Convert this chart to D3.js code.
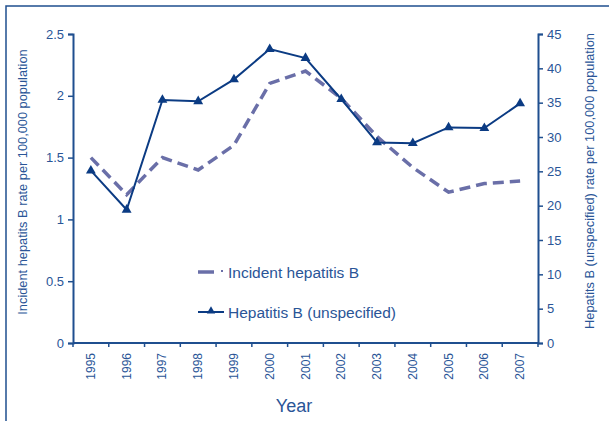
<!DOCTYPE html>
<html>
<head>
<meta charset="utf-8">
<script src="https://cdn.jsdelivr.net/npm/d3@7"></script>
<style>
  html, body { margin: 0; padding: 0; background: #fff; }
  svg { display: block; font-family: "Liberation Sans", Arial, sans-serif; }
</style>
</head>
<body>
<svg id="chart" width="609" height="421"></svg>
<script>
// Years on the x axis
const years = ["1995","1996","1997","1998","1999","2000","2001","2002","2003","2004","2005","2006","2007"];
// Incident hepatitis B rate per 100,000 (left axis)
const incidentRates = [1.5, 1.2, 1.5, 1.4, 1.6, 2.1, 2.2, 1.98, 1.67, 1.42, 1.22, 1.29, 1.31];
// Hepatitis B (unspecified) rate per 100,000 (right axis)
const unspecifiedRates = [25.1, 19.4, 35.4, 35.2, 38.4, 42.8, 41.5, 35.5, 29.2, 29.1, 31.4, 31.3, 34.9];
// Axis tick values
const leftTicks = [0, 0.5, 1, 1.5, 2, 2.5];
const rightTicks = [0, 5, 10, 15, 20, 25, 30, 35, 40, 45];

const axisColor = "#1f4f8f";
const textColor = "#2a5597";
const solidColor = "#0b3b83";
const dashColor = "#6a6fa8";

const svg = d3.select("#chart");

// Outer frame
svg.append("rect")
  .attr("x", 6).attr("y", 6).attr("width", 640).attr("height", 440)
  .attr("fill", "none").attr("stroke", axisColor).attr("stroke-width", 1.5);

const plotLeft = 73, plotRight = 538, plotTop = 34, plotBottom = 343;

const x = d3.scaleBand().domain(years).range([plotLeft, plotRight]).padding(0);
const yL = d3.scaleLinear().domain([0, 2.5]).range([plotBottom, plotTop]);
const yR = d3.scaleLinear().domain([0, 45]).range([plotBottom, plotTop]);

function styleAxis(g) {
  g.selectAll("path").attr("stroke", axisColor).attr("stroke-width", 2);
  g.selectAll("line").attr("stroke", axisColor).attr("stroke-width", 1.5);
  g.selectAll("text").attr("fill", textColor).style("font-size", "13px")
    .style("font-family", "'Liberation Sans', Arial, sans-serif");
}

// Left axis
svg.append("g").attr("transform", `translate(${plotLeft},0)`)
  .call(d3.axisLeft(yL).tickValues(leftTicks).tickFormat(d => String(d)).tickSize(5).tickSizeOuter(5).tickPadding(4))
  .call(styleAxis);

// Right axis
svg.append("g").attr("transform", `translate(${plotRight},0)`)
  .call(d3.axisRight(yR).tickValues(rightTicks).tickSize(5).tickSizeOuter(5).tickPadding(4))
  .call(styleAxis);

// Bottom axis: ticks at category boundaries, labels rotated
const xg = svg.append("g").attr("transform", `translate(0,${plotBottom})`);
xg.append("line").attr("x1", plotLeft).attr("x2", plotRight).attr("y1", 0).attr("y2", 0)
  .attr("stroke", axisColor).attr("stroke-width", 2);
const boundaries = years.map(d => x(d)).concat([x(years[years.length - 1]) + x.bandwidth()]);
xg.selectAll("line.tk").data(boundaries).join("line").attr("class", "tk")
  .attr("x1", d => d).attr("x2", d => d).attr("y1", 0).attr("y2", 4)
  .attr("stroke", axisColor).attr("stroke-width", 1.5);
xg.selectAll("text.yr").data(years).join("text").attr("class", "yr")
  .attr("transform", d => `translate(${x(d) + x.bandwidth() / 2 + 4},10) rotate(-90)`)
  .attr("text-anchor", "end")
  .attr("fill", textColor).style("font-size", "12px")
  .text(d => d);

// Axis titles
svg.append("text").attr("x", 294).attr("y", 412).attr("text-anchor", "middle")
  .attr("fill", textColor).style("font-size", "18px").text("Year");
svg.append("text").attr("transform", "translate(27,182) rotate(-90)").attr("text-anchor", "middle")
  .attr("fill", textColor).style("font-size", "12.8px")
  .text("Incident hepatits B rate per 100,000 population");
svg.append("text").attr("transform", "translate(594,181) rotate(-90)").attr("text-anchor", "middle")
  .attr("fill", textColor).style("font-size", "12.8px")
  .text("Hepatits B (unspecified) rate per 100,000 population");

const cx = d => x(d) + x.bandwidth() / 2;

// Incident hepatitis B: dashed line
svg.append("path")
  .datum(incidentRates)
  .attr("fill", "none").attr("stroke", dashColor).attr("stroke-width", 3.5)
  .attr("stroke-dasharray", "11,6")
  .attr("d", d3.line().x((d, i) => cx(years[i])).y(d => yL(d)));

// Hepatitis B (unspecified): solid line with triangles
svg.append("path")
  .datum(unspecifiedRates)
  .attr("fill", "none").attr("stroke", solidColor).attr("stroke-width", 2)
  .attr("d", d3.line().x((d, i) => cx(years[i])).y(d => yR(d)));

const tri = d3.symbol().type(d3.symbolTriangle).size(42);
svg.selectAll("path.mk").data(unspecifiedRates).join("path").attr("class", "mk")
  .attr("transform", (d, i) => `translate(${cx(years[i])},${yR(d)})`)
  .attr("d", tri).attr("fill", solidColor);

// Legend
const lg = svg.append("g");
lg.append("line").attr("x1", 198).attr("x2", 214).attr("y1", 272).attr("y2", 272)
  .attr("stroke", dashColor).attr("stroke-width", 3.5);
lg.append("rect").attr("x", 221).attr("y", 270).attr("width", 2).attr("height", 2).attr("fill", dashColor);
lg.append("text").attr("x", 228).attr("y", 278).attr("fill", textColor).style("font-size", "15.5px")
  .text("Incident hepatitis B");
lg.append("line").attr("x1", 198).attr("x2", 224).attr("y1", 312).attr("y2", 312)
  .attr("stroke", solidColor).attr("stroke-width", 2);
lg.append("path").attr("transform", "translate(211,311)").attr("d", d3.symbol().type(d3.symbolTriangle).size(30))
  .attr("fill", solidColor);
lg.append("text").attr("x", 228).attr("y", 318).attr("fill", textColor).style("font-size", "15.5px")
  .text("Hepatitis B (unspecified)");
</script>
</body>
</html>
